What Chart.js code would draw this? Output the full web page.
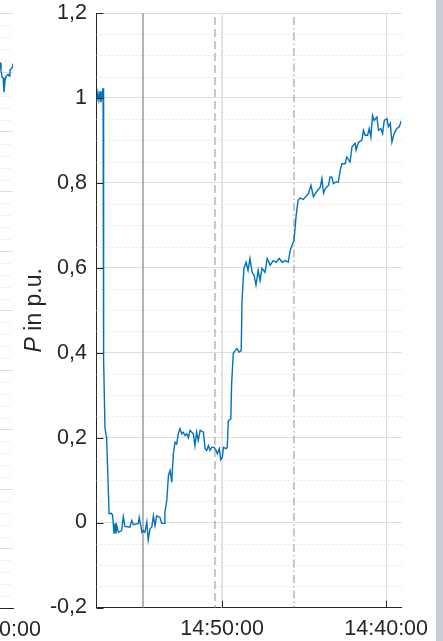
<!DOCTYPE html>
<html>
<head>
<meta charset="utf-8">
<script src="https://cdn.jsdelivr.net/npm/chart.js@4.4.1/dist/chart.umd.min.js"></script>
<style>
  html, body { margin: 0; padding: 0; background: #fff; overflow: hidden; }
  #wrap { position: relative; width: 443px; height: 641px; overflow: hidden; background: #fff; }
  #prev { position: absolute; left: -287px; top: 0; }
  #main { position: absolute; left: 0; top: 0; }
  #edge { position: absolute; left: 436px; top: 0; width: 7px; height: 641px; background: #c8ccd6; }
</style>
</head>
<body>
<div id="wrap">
  <canvas id="prev" width="347" height="641"></canvas>
  <canvas id="main" width="443" height="641"></canvas>
  <div id="edge"></div>
</div>
<script>
// Active power of the unit (p.u.) over time
const powerTimes = [
  "14:57:39","14:57:34","14:57:30","14:57:26","14:57:23","14:57:19","14:57:15","14:57:14",
  "14:57:12","14:57:08","14:57:02","14:56:53","14:56:44","14:56:40","14:56:35","14:56:31",
  "14:56:28","14:56:25","14:56:19","14:56:07","14:56:01","14:55:55","14:55:37","14:55:30",
  "14:55:24","14:55:06","14:55:03","14:54:57","14:54:53","14:54:48","14:54:42","14:54:35",
  "14:54:30","14:54:23","14:54:17","14:54:11","14:54:05","14:53:59","14:53:47","14:53:41",
  "14:53:32","14:53:29","14:53:22","14:53:16","14:53:10","14:53:04","14:52:58","14:52:52",
  "14:52:46","14:52:40","14:52:34","14:52:27","14:52:22","14:52:15","14:52:09","14:52:03",
  "14:51:57","14:51:45","14:51:39","14:51:33","14:51:27","14:51:20","14:51:08","14:51:02",
  "14:50:56","14:50:50","14:50:44","14:50:38","14:50:29","14:50:22","14:50:17","14:50:10",
  "14:50:05","14:49:59","14:49:55","14:49:45","14:49:41","14:49:37","14:49:28","14:49:25",
  "14:49:19","14:49:12","14:49:05","14:48:58","14:48:50","14:48:47","14:48:40","14:48:32",
  "14:48:25","14:48:18","14:48:10","14:48:03","14:47:56","14:47:48","14:47:41","14:47:34",
  "14:47:23","14:47:15","14:47:04","14:46:53","14:46:42","14:46:31","14:46:20","14:46:09",
  "14:45:58","14:45:51","14:45:44","14:45:37","14:45:29","14:45:22","14:45:15","14:45:03",
  "14:44:44","14:44:35","14:44:26","14:44:16","14:44:01","14:43:55","14:43:49","14:43:43",
  "14:43:31","14:43:25","14:43:19","14:43:13","14:43:03","14:42:55","14:42:48","14:42:42",
  "14:42:30","14:42:24","14:42:12","14:42:05","14:41:53","14:41:50","14:41:41","14:41:29",
  "14:41:23","14:41:17","14:41:08","14:41:02","14:40:56","14:40:50","14:40:44","14:40:34",
  "14:40:28","14:40:19","14:40:13","14:40:07","14:39:57","14:39:52","14:39:45","14:39:39",
  "14:39:31","14:39:21","14:39:12","14:39:05"
];
const powerValues = [
  0.988, 1.013, 0.995, 1.016, 0.990, 1.006, 1.023, 0.995,
  0.382, 0.222, 0.200, 0.021, 0.022, 0.016, -0.026, -0.002,
  -0.026, -0.007, -0.023, -0.019, 0.014, -0.009, -0.011, 0.005,
  -0.005, -0.002, 0.012, -0.007, -0.023, -0.019, -0.023, 0.001,
  -0.041, -0.014, -0.011, 0.016, -0.007, 0.016, 0.012, -0.002,
  -0.002, 0.024, 0.052, 0.111, 0.123, 0.095, 0.162, 0.189,
  0.185, 0.209, 0.221, 0.209, 0.213, 0.205, 0.209, 0.200,
  0.217, 0.209, 0.181, 0.213, 0.193, 0.217, 0.213, 0.174,
  0.170, 0.181, 0.170, 0.177, 0.177, 0.170, 0.162, 0.174,
  0.148, 0.154, 0.177, 0.174, 0.177, 0.240, 0.244, 0.327,
  0.398, 0.405, 0.410, 0.401, 0.405, 0.523, 0.599, 0.613,
  0.594, 0.622, 0.589, 0.582, 0.559, 0.594, 0.570, 0.599,
  0.589, 0.622, 0.606, 0.617, 0.613, 0.622, 0.613, 0.617,
  0.613, 0.641, 0.653, 0.665, 0.724, 0.759, 0.764, 0.761,
  0.775, 0.794, 0.767, 0.778, 0.790, 0.810, 0.776, 0.786,
  0.794, 0.814, 0.814, 0.798, 0.802, 0.802, 0.830, 0.845,
  0.845, 0.861, 0.849, 0.885, 0.893, 0.877, 0.896, 0.900,
  0.924, 0.912, 0.912, 0.928, 0.908, 0.959, 0.947, 0.955,
  0.924, 0.928, 0.916, 0.947, 0.951, 0.932, 0.940, 0.896,
  0.916, 0.928, 0.932, 0.946
];

// Event markers (solid, dashed, dotted, dash-dot)
const markerTimes = ["14:54:49", "14:50:26", "14:50:02", "14:45:37"];

// Axis settings
const xRange = ["14:39:04", "14:57:39"];
const xTickTimes = ["14:50:00", "14:40:00"];
const yTickValues = [-0.2, 0, 0.2, 0.4, 0.6, 0.8, 1.0, 1.2];

// Neighbouring panel (right end only)
const prevTimes = ["14:40:11","14:39:56","14:39:53","14:39:49","14:39:45","14:39:42","14:39:38","14:39:34","14:39:27","14:39:23","14:39:20","14:39:12","14:39:09","14:39:05"];
const prevValues = [0.921, 0.916, 0.904, 0.892, 0.891, 0.867, 0.887, 0.894, 0.897, 0.894, 0.904, 0.908, 0.914, 0.916];
const prevRange = ["14:39:09", "14:53:47"];
const prevTickTimes = ["14:40:00"];

const FONT = "'Liberation Sans', Arial, Helvetica, sans-serif";
const INK = '#262626';
const GRID = '#dfdfdf';
const MINOR = '#d9d9d9';
const LINE = '#0072bd';

const toSec = s => { const [h, m, x] = s.split(':').map(Number); return h * 3600 + m * 60 + x; };
const fmtTime = t => {
  const h = Math.floor(t / 3600), m = Math.floor((t % 3600) / 60), s = Math.round(t % 60);
  return h + ':' + String(m).padStart(2, '0') + ':' + String(s).padStart(2, '0');
};
const fmtNum = v => String(Math.round(v * 10) / 10).replace('.', ',');

// MATLAB-like axes: dotted minor grid, inward ticks, markers, y label
const axesDecor = {
  id: 'axesDecor',
  beforeDatasetsDraw(chart, args, o) {
    const { ctx, chartArea: a, scales: { x, y } } = chart;
    ctx.save();
    ctx.strokeStyle = MINOR;
    ctx.lineWidth = 1;
    ctx.setLineDash([1, 3]);
    const n = Math.round((y.max - y.min) / o.minorStep);
    for (let i = 1; i < n; i++) {
      const v = y.min + i * o.minorStep;
      if (Math.abs(v / o.majorStep - Math.round(v / o.majorStep)) < 1e-6) continue;
      const py = Math.round(y.getPixelForValue(v)) + 0.5;
      ctx.beginPath(); ctx.moveTo(a.left, py); ctx.lineTo(a.right, py); ctx.stroke();
    }
    (o.markers || []).forEach((m, i) => {
      const st = o.markerStyles[i];
      const px = x.getPixelForValue(toSec(m));
      ctx.strokeStyle = st.color;
      ctx.lineWidth = st.width;
      ctx.setLineDash(st.dash);
      ctx.beginPath(); ctx.moveTo(px, a.top + (st.dash.length ? 4 : 0)); ctx.lineTo(px, a.bottom); ctx.stroke();
    });
    ctx.restore();
  },
  afterDatasetsDraw(chart, args, o) {
    if (!o.ticks) return;
    const { ctx, chartArea: a, scales: { x, y } } = chart;
    ctx.save();
    ctx.strokeStyle = INK;
    ctx.lineWidth = 1;
    y.ticks.forEach(t => {
      const py = Math.round(y.getPixelForValue(t.value)) + 0.5;
      ctx.beginPath(); ctx.moveTo(a.left, py); ctx.lineTo(a.left + 7, py); ctx.stroke();
    });
    x.ticks.forEach(t => {
      const px = Math.round(x.getPixelForValue(t.value)) + 0.5;
      ctx.beginPath(); ctx.moveTo(px, a.bottom); ctx.lineTo(px, a.bottom - 7); ctx.stroke();
    });
    ctx.restore();
  },
  afterDraw(chart, args, o) {
    if (!o.yLabel) return;
    const { ctx, chartArea: a } = chart;
    ctx.save();
    ctx.translate(41, (a.top + a.bottom) / 2);
    ctx.rotate(-Math.PI / 2);
    ctx.fillStyle = INK;
    ctx.textBaseline = 'alphabetic';
    const it = 'italic 23px ' + FONT, rm = '23px ' + FONT;
    ctx.font = it; const w1 = ctx.measureText('P').width;
    ctx.font = rm; const w2 = ctx.measureText(' in p.u.').width;
    let sx = -(w1 + w2) / 2;
    ctx.font = it; ctx.fillText('P', sx, 0);
    ctx.font = rm; ctx.fillText(' in p.u.', sx + w1, 0);
    ctx.restore();
  }
};

const timeTicks = list => scale => { scale.ticks = list.map(t => ({ value: toSec(t) })); };

// Main panel
new Chart(document.getElementById('main'), {
  type: 'line',
  data: {
    datasets: [{
      data: powerTimes.map((t, i) => ({ x: toSec(t), y: powerValues[i] })),
      borderColor: LINE,
      borderWidth: 1.4,
      pointRadius: 0,
      tension: 0,
      fill: false
    }]
  },
  options: {
    responsive: false,
    animation: false,
    devicePixelRatio: 1,
    layout: { padding: { left: 0, top: 13, right: 41.5, bottom: 0 } },
    plugins: {
      legend: { display: false },
      tooltip: { enabled: false },
      axesDecor: {
        minorStep: 0.05, majorStep: 0.2, ticks: true, yLabel: true,
        markers: markerTimes,
        markerStyles: [
          { color: '#9b9b9b', width: 1.5, dash: [] },
          { color: '#a3a3a3', width: 1.2, dash: [8, 4] },
          { color: '#cfcfcf', width: 1.5, dash: [1, 1.5] },
          { color: '#909090', width: 1, dash: [8, 3, 1.5, 3] }
        ]
      }
    },
    scales: {
      x: {
        type: 'linear',
        reverse: true,
        min: toSec(xRange[0]),
        max: toSec(xRange[1]),
        afterBuildTicks: timeTicks(xTickTimes),
        afterFit(s) { s.height = 33.5; s.paddingLeft = 0; s.paddingRight = 0; },
        grid: { color: GRID, lineWidth: 1, drawTicks: false },
        border: { display: true, color: INK, width: 1 },
        ticks: {
          autoSkip: false, maxRotation: 0, padding: 9, color: INK,
          font: { family: FONT, size: 21.5 },
          callback: v => fmtTime(v)
        }
      },
      y: {
        min: -0.2,
        max: 1.2,
        afterBuildTicks(s) { s.ticks = yTickValues.map(v => ({ value: v })); },
        afterFit(s) { s.width = 96.5; s.paddingTop = 0; s.paddingBottom = 0; },
        grid: { color: GRID, lineWidth: 1, drawTicks: false },
        border: { display: true, color: INK, width: 1 },
        ticks: {
          padding: 9.5, color: INK,
          font: { family: FONT, size: 21.5 },
          callback: v => fmtNum(v)
        }
      }
    }
  },
  plugins: [axesDecor]
});

// Neighbouring panel on the left
new Chart(document.getElementById('prev'), {
  type: 'line',
  data: {
    datasets: [{
      data: prevTimes.map((t, i) => ({ x: toSec(t), y: prevValues[i] })),
      borderColor: LINE,
      borderWidth: 1.4,
      pointRadius: 0,
      tension: 0,
      fill: false
    }]
  },
  options: {
    responsive: false,
    animation: false,
    devicePixelRatio: 1,
    layout: { padding: { left: 0, top: 13, right: 47, bottom: 0 } },
    plugins: {
      legend: { display: false },
      tooltip: { enabled: false },
      axesDecor: { minorStep: 0.02, majorStep: 0.1, ticks: false, yLabel: false, markers: [] }
    },
    scales: {
      x: {
        type: 'linear',
        reverse: true,
        min: toSec(prevRange[0]),
        max: toSec(prevRange[1]),
        afterBuildTicks: timeTicks(prevTickTimes),
        afterFit(s) { s.height = 33; s.paddingLeft = 0; s.paddingRight = 0; },
        grid: { display: false, drawTicks: false },
        border: { display: true, color: INK, width: 1 },
        ticks: {
          autoSkip: false, maxRotation: 0, padding: 9, color: INK,
          font: { family: FONT, size: 21.5 },
          callback: v => fmtTime(v)
        }
      },
      y: {
        min: 0,
        max: 1,
        ticks: { display: false, stepSize: 0.1 },
        afterFit(s) { s.width = 60; s.paddingTop = 0; s.paddingBottom = 0; },
        grid: { color: GRID, lineWidth: 1, drawTicks: false },
        border: { display: false }
      }
    }
  },
  plugins: [axesDecor]
});
</script>
</body>
</html>
